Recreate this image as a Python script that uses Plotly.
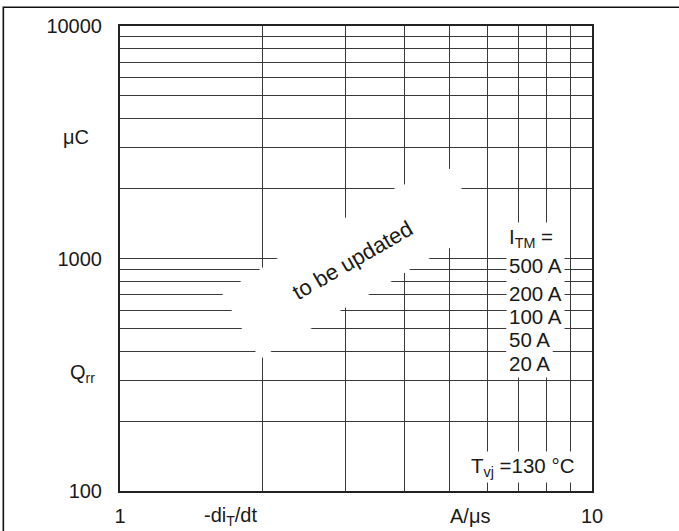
import plotly.graph_objects as go

# ---- data / tick definitions ----
x_ticks = [1, 10]
x_ticklabels = ["1", "10"]
x_minor = [2, 3, 4, 5, 6, 7, 8, 9]
y_ticks = [100, 1000, 10000]
y_ticklabels = ["100", "1000", "10000"]
y_minor = [200, 300, 400, 500, 600, 700, 800, 900,
           2000, 3000, 4000, 5000, 6000, 7000, 8000, 9000]
current_header = "I<sub>TM</sub> ="
current_labels = ["500 A", "200 A", "100 A", "50 A", "20 A"]
temperature_label = "T<sub>vj</sub> =130 °C"
placeholder_text = "to be updated"
y_unit = "\u03bcC"
y_name = "Q<sub>rr</sub>"
x_name = "-di<sub>T</sub>/dt"
x_unit = "A/\u03bcs"

# ---- layout geometry (pixels) ----
W, H = 679, 531
L, R, T, B = 120, 87, 26, 40
PW, PH = W - L - R, H - T - B


def px(X):
    return (X - L) / PW


def py(Y):
    return (H - B - Y) / PH


FONT = "Arial, 'Liberation Sans', sans-serif"
TXT = "#1a1a1a"
GRID = "#3a3a3a"

fig = go.Figure()
fig.add_trace(go.Scatter(x=[], y=[], mode="lines", showlegend=False))

fig.update_xaxes(type="log", range=[0, 1], tickmode="array",
                 tickvals=x_ticks, ticktext=x_ticklabels, automargin=False,
                 showgrid=True, gridcolor=GRID, gridwidth=1, zeroline=False,
                 minor=dict(tickmode="array", tickvals=x_minor, showgrid=True,
                            gridcolor=GRID, gridwidth=1, ticks=""),
                 showline=True, mirror=True, linecolor="#222", linewidth=2,
                 ticks="", ticklabelstandoff=6,
                 tickfont=dict(family=FONT, size=20, color=TXT))
fig.update_yaxes(type="log", range=[2, 4], tickmode="array",
                 tickvals=y_ticks, ticktext=y_ticklabels, automargin=False,
                 showgrid=True, gridcolor=GRID, gridwidth=1, zeroline=False,
                 minor=dict(tickmode="array", tickvals=y_minor, showgrid=True,
                            gridcolor=GRID, gridwidth=1, ticks=""),
                 showline=True, mirror=True, linecolor="#222", linewidth=2,
                 ticks="", ticklabelstandoff=12,
                 tickfont=dict(family=FONT, size=20, color=TXT))

# white band erasing the grid around the placeholder text
band_px = [(455, 167), (462, 190), (452, 247), (430, 258), (412, 268), (392, 281),
           (368, 295), (343, 309), (312, 328), (273, 350), (262, 358), (255, 351),
           (242, 329), (232, 311), (222, 295), (240, 282), (262, 268), (278, 258),
           (345, 218), (397, 187)]
path = "M " + " L ".join(f"{px(a):.4f},{py(b):.4f}" for a, b in band_px) + " Z"
shapes = [
    dict(type="path", xref="paper", yref="paper", path=path,
         fillcolor="white", line=dict(width=0), layer="above"),
    dict(type="path", xref="paper", yref="paper",
         path=f"M {px(700):.4f},{py(7.3):.4f} L {px(3.3):.4f},{py(7.3):.4f} L {px(3.3):.4f},{py(560):.4f}",
         line=dict(color="#111", width=1.6), layer="above"),
]

ann = []


def add(text, X, Y, size=20, xanchor="center", bg=None, angle=0, pad=1):
    d = dict(text=text, x=px(X), y=py(Y), xref="paper", yref="paper",
             showarrow=False, xanchor=xanchor, yanchor="middle",
             font=dict(family=FONT, size=size, color=TXT), textangle=angle)
    if bg:
        d.update(bgcolor=bg, borderpad=pad)
    ann.append(d)


add(y_unit, 76, 137)
add(y_name, 82, 373)
add(x_name, 230, 516)
add(x_unit, 470, 516)
add(placeholder_text, 352, 260, size=22, angle=-30)

label_y = [265, 293, 317, 339, 364]
add(current_header, 506, 238, size=20.5, xanchor="left", bg="white", pad=2)
for txt, yy in zip(current_labels, label_y):
    add(txt, 506, yy, size=20.5, xanchor="left", bg="white", pad=2)
add(temperature_label, 523, 467, size=20.5, bg="white", pad=2)

fig.update_layout(width=W, height=H, margin=dict(l=L, r=R, t=T, b=B),
                  paper_bgcolor="white", plot_bgcolor="white",
                  shapes=shapes, annotations=ann, showlegend=False)

fig.write_html("out.html", config={"displayModeBar": False},
               post_script="document.body.style.margin='0';")
